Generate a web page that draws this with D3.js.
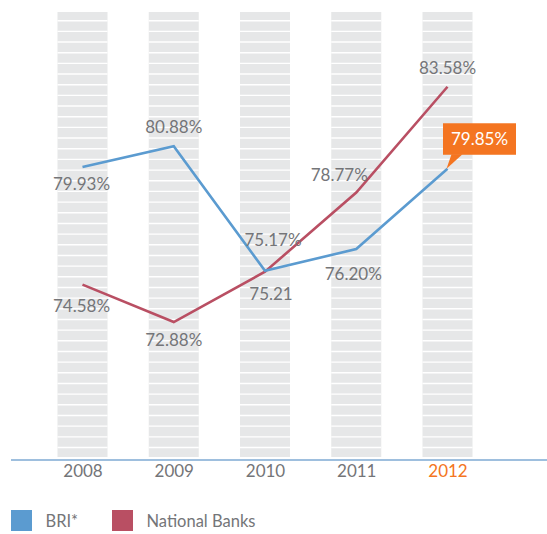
<!DOCTYPE html>
<html>
<head>
<meta charset="utf-8">
<script src="https://cdn.jsdelivr.net/npm/d3@7/dist/d3.min.js"></script>
<style>
  html, body { margin: 0; padding: 0; background: #fff; }
  svg { display: block; font-family: Lato, "Open Sans", sans-serif; }
</style>
</head>
<body>
<svg id="chart" width="547" height="534"></svg>
<script>
// ---- data ----
const years = ["2008", "2009", "2010", "2011", "2012"];
const briValues = [79.93, 80.88, 75.21, 76.20, 79.85];
const nationalValues = [74.58, 72.88, 75.17, 78.77, 83.58];
const briLabels = ["79.93%", "80.88%", "75.21", "76.20%", "79.85%"];
const nationalLabels = ["74.58%", "72.88%", "75.17%", "78.77%", "83.58%"];
const seriesNames = ["BRI*", "National Banks"];
const highlightYear = "2012";

// ---- styling / layout ----
const colors = { bri: "#5b9bd0", nat: "#b94f63", text: "#747578", orange: "#f47521", col: "#e6e7e8", axis: "#7eaad3" };
const briLabelOffsets = [[-1, 23], [0, -13], [6, 29], [-3, 31], [0, 0]];
const natLabelOffsets = [[-1, 27], [0, 24], [8, -26], [-17, -12], [0, -13]];
const FW = 400;

const svg = d3.select("#chart");
const x = d3.scalePoint().domain(years).range([82.5, 447.5]);
const y = d3.scaleLinear().domain([70, 85]).range([385.4, 55.5]);

const colTop = 12, colBottom = 457, colW = 50, axisY = 460;

// columns
const cols = svg.append("g");
cols.selectAll("rect").data(years).join("rect")
  .attr("x", d => x(d) - colW / 2).attr("y", colTop)
  .attr("width", colW).attr("height", colBottom - colTop)
  .attr("fill", colors.col);
// white stripes
const stripeYs = d3.range(20.7, colBottom - 2, 10.67);
years.forEach(yr => {
  cols.selectAll(null).data(stripeYs).join("line")
    .attr("x1", x(yr) - colW / 2).attr("x2", x(yr) + colW / 2)
    .attr("y1", d => d).attr("y2", d => d)
    .attr("stroke", "#fff").attr("stroke-width", 1.4);
});

// axis
svg.append("line").attr("x1", 11).attr("x2", 547).attr("y1", axisY).attr("y2", axisY)
  .attr("stroke", colors.axis).attr("stroke-width", 1.6);
const ax = svg.append("g").attr("transform", `translate(0,${axisY})`)
  .call(d3.axisBottom(x).tickSize(0).tickPadding(5));
ax.select(".domain").remove();
ax.selectAll("text")
  .attr("font-family", "Lato, 'Open Sans', sans-serif")
  .attr("font-size", 17).attr("font-weight", FW)
  .attr("fill", d => d === highlightYear ? colors.orange : colors.text);

// lines
const line = d3.line().x((d, i) => x(years[i])).y(d => y(d));
svg.append("path").datum(nationalValues).attr("d", line)
  .attr("fill", "none").attr("stroke", colors.nat).attr("stroke-width", 2.6).attr("stroke-linejoin", "miter");
svg.append("path").datum(briValues).attr("d", line)
  .attr("fill", "none").attr("stroke", colors.bri).attr("stroke-width", 2.6).attr("stroke-linejoin", "miter");

// labels
const lbl = svg.append("g").attr("font-size", 17).attr("font-weight", FW).attr("fill", colors.text).attr("text-anchor", "middle");
lbl.selectAll(".nat").data(nationalValues).join("text").attr("class", "nat")
  .attr("x", (d, i) => x(years[i]) + natLabelOffsets[i][0])
  .attr("y", (d, i) => y(d) + natLabelOffsets[i][1])
  .text((d, i) => nationalLabels[i]);
lbl.selectAll(".bri").data(briValues.slice(0, 4)).join("text").attr("class", "bri")
  .attr("x", (d, i) => x(years[i]) + briLabelOffsets[i][0])
  .attr("y", (d, i) => y(d) + briLabelOffsets[i][1])
  .text((d, i) => briLabels[i]);

// highlighted callout for last BRI value
const hx = x(years[4]), hy = y(briValues[4]);
const call = svg.append("g");
call.append("rect").attr("x", hx - 4.5).attr("y", hy - 45.5).attr("width", 73).attr("height", 31.5).attr("fill", colors.orange);
call.append("path").attr("d", `M${hx + 4},${hy - 14.5} L${hx + 15},${hy - 14.5} L${hx - 1},${hy} Z`).attr("fill", colors.orange);
call.append("text").attr("x", hx + 32).attr("y", hy - 23.5).attr("text-anchor", "middle")
  .attr("font-size", 17).attr("font-weight", FW).attr("fill", "#fff").text(briLabels[4]);

// legend
const leg = svg.append("g");
const legX = [11, 112];
const legColors = [colors.bri, colors.nat];
seriesNames.forEach((n, i) => {
  leg.append("rect").attr("x", legX[i]).attr("y", 510).attr("width", 21).attr("height", 21).attr("fill", legColors[i]);
  leg.append("text").attr("x", legX[i] + 34.5).attr("y", 527).attr("font-size", 16.5).attr("font-weight", FW).attr("fill", colors.text).text(n);
});
</script>
</body>
</html>
